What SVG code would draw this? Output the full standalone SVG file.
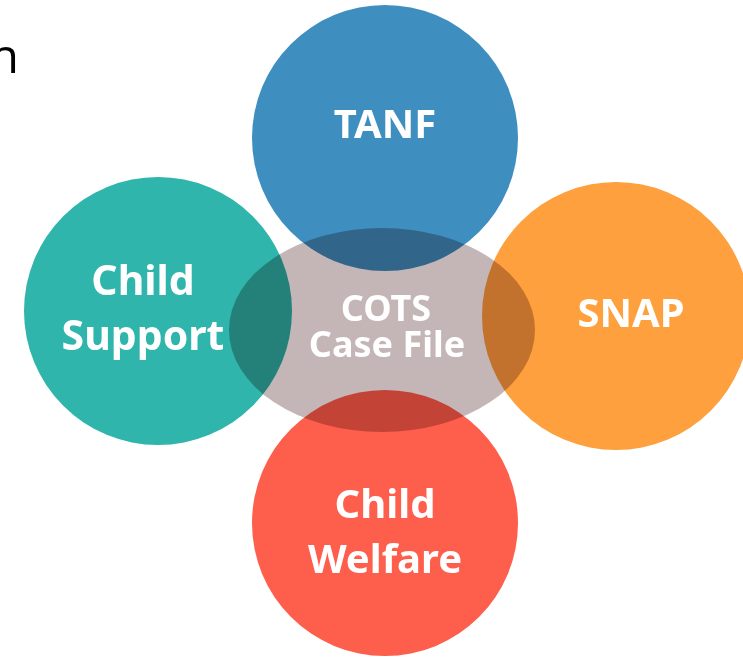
<svg xmlns="http://www.w3.org/2000/svg" width="743" height="657" viewBox="0 0 743 657">
<style>
.lbl{font-family:"Noto Sans","Open Sans",sans-serif;font-weight:bold;fill:#ffffff;text-anchor:middle;font-size:40px}
.hub{mix-blend-mode:multiply}
</style>
<rect width="743" height="657" fill="#ffffff"/>
<text x="19" y="73" font-family="Open Sans, sans-serif" font-size="48" fill="#000000" text-anchor="end">n</text>
<g id="tanf"><circle cx="385" cy="138" r="133" fill="#3f8ec0"/><text class="lbl" x="385" y="138">TANF</text></g>
<g id="child-support"><circle cx="158" cy="311" r="134" fill="#2fb5ab"/><text class="lbl" x="143" y="295" style="font-size:41px">Child</text><text class="lbl" x="143" y="350" style="font-size:41px">Support</text></g>
<g id="snap"><circle cx="616" cy="316" r="134" fill="#fda03d"/><text class="lbl" x="631" y="327">SNAP</text></g>
<g id="child-welfare"><circle cx="385" cy="523" r="133" fill="#fe5e4c"/><text class="lbl" x="385" y="518">Child</text><text class="lbl" x="385" y="573">Welfare</text></g>
<g id="cots"><ellipse class="hub" cx="382" cy="330" rx="153" ry="102" fill="#c4b6b6"/><text class="lbl" x="386" y="321" style="font-size:36px">COTS</text><text class="lbl" x="387" y="357" style="font-size:36px">Case File</text></g>
<g id="connectors"></g>
</svg>
